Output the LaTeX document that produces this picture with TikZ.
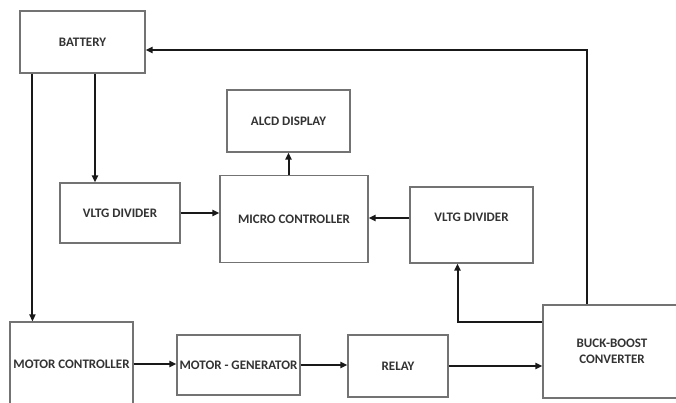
\documentclass[tikz,border=0pt]{standalone}
\usepackage{fontspec}
\setmainfont{Carlito}
\usetikzlibrary{arrows.meta}

\begin{document}
\begin{tikzpicture}[
    x=1pt, y=-1pt,
    block/.style={rectangle, draw=black!55, line width=1.1pt, align=center, inner sep=1pt,
                  font=\fontsize{13}{16}\selectfont\bfseries, text=black!80},
    arrow/.style={-{Triangle[length=7pt,width=6pt]}, line width=2pt, black!90}
]
\clip (0,0) rectangle (676,403);
\fill[white] (0,0) rectangle (676,403);

% Blocks
\node[block, minimum width=125pt, minimum height=62pt] (battery) at (82.5,42) {BATTERY};
\node[block, minimum width=123pt, minimum height=62pt] (alcd) at (288.5,121) {ALCD DISPLAY};
\node[block, minimum width=120pt, minimum height=60pt] (vltg1) at (120,213) {VLTG DIVIDER};
\node[block, minimum width=148pt, minimum height=87pt] (micro) at (294,219) {MICRO CONTROLLER};
\node[block, minimum width=123pt, minimum height=76pt, text depth=16pt] (vltg2) at (471.5,225) {VLTG DIVIDER};
\node[block, minimum width=123pt, minimum height=84pt] (motorctrl) at (71.5,364) {MOTOR CONTROLLER};
\node[block, minimum width=123pt, minimum height=60pt] (motorgen) at (238.5,365) {MOTOR - GENERATOR};
\node[block, minimum width=100pt, minimum height=62pt] (relay) at (398,366) {RELAY};
\node[block, minimum width=138pt, minimum height=93pt] (buck) at (612,351.5) {BUCK-BOOST\\CONVERTER};

% Battery outputs
\coordinate (bat_mc) at ([xshift=13pt]battery.south west);
\coordinate (bat_vd) at ([xshift=-25pt]vltg1.north);
\draw[arrow] (bat_mc) -- (bat_mc |- motorctrl.north);
\draw[arrow] (battery.south -| bat_vd) -- (bat_vd);

% Sensing to controller
\draw[arrow] (vltg1.east) -- (vltg1.east -| micro.west);
\draw[arrow] ([yshift=7pt]vltg2.west) -- ([yshift=7pt]vltg2.west -| micro.east);
\draw[arrow] (micro.north -| alcd.south) -- (alcd.south);

% Drive chain
\draw[arrow] (motorctrl.east) -- (motorctrl.east -| motorgen.west);
\draw[arrow] (motorgen.east) -- (motorgen.east -| relay.west);
\draw[arrow] (relay.east) -- (relay.east -| buck.west);

% Converter feedback
\draw[arrow] ([yshift=30pt]buck.west) -| ([xshift=-14pt]vltg2.south);
\draw[arrow] ([xshift=-25pt]buck.north) |- ([yshift=-8pt]battery.east);

\end{tikzpicture}
\end{document}
